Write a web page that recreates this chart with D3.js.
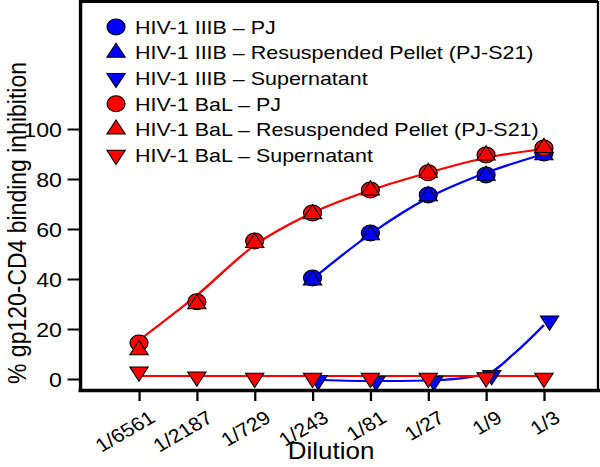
<!DOCTYPE html>
<html>
<head>
<meta charset="utf-8">
<script src="https://cdn.jsdelivr.net/npm/d3@7"></script>
<style>
  body { margin: 0; background: #fff; }
  text { font-family: "Liberation Sans", Arial, sans-serif; fill: #000; }
</style>
</head>
<body>
<div id="chart"></div>
<script>
// dilutions on the x axis
var dilutions = [1/6561, 1/2187, 1/729, 1/243, 1/81, 1/27, 1/9, 1/3];
var dilutionLabels = ["1/6561", "1/2187", "1/729", "1/243", "1/81", "1/27", "1/9", "1/3"];
var yTicks = [0, 20, 40, 60, 80, 100];

// measured points (% inhibition)
var iiibDil = [1/243, 1/81, 1/27, 1/9, 1/3];
var iiibPJ = [40.4, 58.4, 73.6, 81.6, 90.4];
var iiibPellet = [39.5, 57.6, 73.2, 81.4, 89.6];
var iiibSuper = [-0.5, -0.8, -0.8, 1.5, 23.3];
var balPJ = [14.4, 30.9, 55.2, 66.4, 75.6, 82.5, 89.6, 92.4];
var balPellet = [11.6, 30.0, 54.5, 66.0, 75.5, 82.5, 89.5, 92.5];
var balSuper = [2.9, 0.9, 0.4, 0.4, 0.4, 0.4, 0.6, 0.4];

// fitted curves (x = power of 3)
var balFitExp = [-8, -7, -6, -5, -4, -3, -2, -1];
var balFit = [15.5, 33.5, 53.5, 66.5, 75.5, 82.5, 88.5, 92];
var iiibFitExp = [-5, -4, -3, -2, -1];
var iiibFit = [40, 58, 72.5, 82.5, 90];
var iiibSuperFitExp = [-5, -4, -3, -2, -1.5, -1];
var iiibSuperFit = [-0.3, -0.8, -0.6, 2.0, 10.5, 21.6];
var balSuperFitExp = [-8, -1];
var balSuperFit = [1.2, 1.2];

var legendLabels = [
  "HIV-1 IIIB \u2013 PJ",
  "HIV-1 IIIB \u2013 Resuspended Pellet (PJ-S21)",
  "HIV-1 IIIB \u2013 Supernatant",
  "HIV-1 BaL \u2013 PJ",
  "HIV-1 BaL \u2013 Resuspended Pellet (PJ-S21)",
  "HIV-1 BaL \u2013 Supernatant"
];

// the original figure is stretched sideways, so draw in a narrower box and stretch it
var svgWidth = 600, svgHeight = 467;
var W = 531;
var margin = {top: 1, right: 1.8, bottom: 77, left: 70.8};

var svg = d3.select("#chart")
  .append("svg")
  .attr("width", svgWidth)
  .attr("height", svgHeight)
  .attr("viewBox", `0 0 ${W} ${svgHeight}`)
  .attr("preserveAspectRatio", "none");

var x0 = margin.left, x1 = W - margin.right;
var y0 = svgHeight - margin.bottom, y1 = margin.top;

var x = d3.scaleLog().base(3)
  .domain([Math.pow(3, -9.02), Math.pow(3, -0.066)])
  .range([x0, x1]);
var y = d3.scaleLinear()
  .domain([-4.4, 151.2])
  .range([y0, y1]);

var blue = "#0000ff", red = "#ff0000";

// fit lines
var line = d3.line()
  .x(d => x(Math.pow(3, d[0])))
  .y(d => y(d[1]))
  .curve(d3.curveMonotoneX);

var fits = [
  [iiibFitExp, iiibFit, blue],
  [iiibSuperFitExp, iiibSuperFit, blue],
  [balFitExp, balFit, red],
  [balSuperFitExp, balSuperFit, red]
];
fits.forEach(function(f) {
  svg.append("path")
    .datum(f[0].map((e, i) => [e, f[1][i]]))
    .attr("d", line)
    .attr("fill", "none")
    .attr("stroke", f[2])
    .attr("stroke-width", 2.2);
});

// markers
var triUp = d3.symbol().type(d3.symbolTriangle).size(115);
function drawMarker(g, shape, color) {
  if (shape == "circle") {
    g.append("circle").attr("r", 8);
  } else {
    g.append("path").attr("d", triUp())
      .attr("transform", shape == "down" ? "rotate(180)" : null);
  }
  g.selectAll("*").attr("fill", color).attr("stroke", "#000").attr("stroke-width", 1);
}

var series = [
  [iiibDil, iiibPJ, "circle", blue, 0],
  [iiibDil, iiibPellet, "up", blue, 0],
  [iiibDil, iiibSuper, "down", blue, 5],
  [dilutions, balPJ, "circle", red, 0],
  [dilutions, balPellet, "up", red, 0],
  [dilutions, balSuper, "down", red, 0]
];
series.forEach(function(s) {
  s[0].forEach(function(d, i) {
    var g = svg.append("g")
      .attr("transform", `translate(${x(d) + s[4]}, ${y(s[1][i])})`);
    drawMarker(g, s[2], s[3]);
  });
});

// axes
var bottomAxis = d3.axisBottom(x)
  .tickValues(dilutions)
  .tickFormat((d, i) => dilutionLabels[i])
  .tickSize(11)
  .tickSizeOuter(0);
var leftAxis = d3.axisLeft(y)
  .tickValues(yTicks)
  .tickSize(11)
  .tickSizeOuter(0)
  .tickPadding(5);

var xAxisG = svg.append("g")
  .attr("transform", `translate(0, ${y0})`)
  .call(bottomAxis);
xAxisG.select(".domain").attr("stroke-width", 3.5).attr("stroke-linecap", "square");
xAxisG.selectAll(".tick line").attr("stroke-width", 2);
xAxisG.selectAll(".tick text")
  .attr("font-size", 19)
  .attr("text-anchor", "end")
  .attr("y", 0).attr("dy", 0)
  .attr("transform", "translate(15, 31) rotate(-33)");

var yAxisG = svg.append("g")
  .attr("transform", `translate(${x0}, 0)`)
  .call(leftAxis);
yAxisG.select(".domain").attr("stroke-width", 3).attr("stroke-linecap", "square");
yAxisG.selectAll(".tick line").attr("stroke-width", 2);
yAxisG.selectAll(".tick text").attr("font-size", 20.5).attr("dy", "0.36em");

// top and right frame
svg.append("line")
  .attr("x1", x0).attr("x2", x1).attr("y1", y1 + 0.5).attr("y2", y1 + 0.5)
  .attr("stroke", "#000").attr("stroke-width", 3);
svg.append("line")
  .attr("x1", x1).attr("x2", x1).attr("y1", y1).attr("y2", y0)
  .attr("stroke", "#000").attr("stroke-width", 2);

// axis titles
svg.append("text")
  .attr("x", 293)
  .attr("y", 459)
  .attr("text-anchor", "middle")
  .attr("font-size", 23)
  .text("Dilution");

svg.append("text")
  .attr("transform", "translate(23, 223) rotate(-90)")
  .attr("text-anchor", "middle")
  .attr("font-size", 23)
  .text("% gp120-CD4 binding inhibition");

// legend
var legendShapes = ["circle", "up", "down", "circle", "up", "down"];
var legendColors = [blue, blue, blue, red, red, red];
legendLabels.forEach(function(lab, i) {
  var ly = 27 + i * 25.6;
  var g = svg.append("g").attr("transform", `translate(102.7, ${ly})`);
  drawMarker(g, legendShapes[i], legendColors[i]);
  svg.append("text")
    .attr("x", 119.5)
    .attr("y", ly)
    .attr("dy", "0.36em")
    .attr("font-size", 19)
    .text(lab);
});
</script>
</body>
</html>
